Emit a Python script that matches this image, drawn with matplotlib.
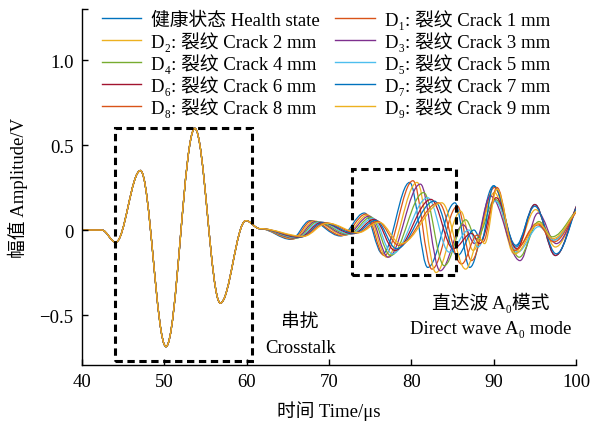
import matplotlib
matplotlib.use('Agg')
import matplotlib.pyplot as plt
from matplotlib.path import Path
from matplotlib.patches import PathPatch, Rectangle
from matplotlib.lines import Line2D

plt.rcParams['font.family'] = ['Liberation Serif', 'Noto Sans CJK SC', 'DejaVu Serif']
plt.rcParams['font.size'] = 13.5

# 串扰段: 所有曲线重合 (时间 us, 幅值 V, 取极值点)
t_common = [40.0, 42.4, 44.1, 47.1, 50.2, 53.7, 56.8, 59.9, 61.6]
a_common = [0.0, 0.0, -0.072, 0.35, -0.686, 0.598, -0.43, 0.055, 0.008]

# 之后每条曲线各自的极值点
t_health = [65.4, 67.7, 71.4, 74.3, 76.5, 79.8, 82.0, 85.3, 87.1, 90.0, 92.7, 95.0, 97.5, 101.0]
a_health = [-0.055, 0.055, -0.035, 0.100, -0.14, 0.28, -0.22, 0.16, -0.22, 0.26, -0.10, 0.15, -0.15, 0.20]
t_d1 = [65.6, 67.9, 71.6, 74.5, 76.7, 80.2, 82.5, 85.6, 87.3, 90.1, 92.6, 95.3, 97.2, 101.0]
a_d1 = [-0.053, 0.053, -0.033, 0.094, -0.15, 0.29, -0.23, 0.14, -0.18, 0.25, -0.12, 0.04, -0.06, 0.15]
t_d2 = [65.7, 68.2, 71.9, 74.7, 77.0, 80.7, 83.0, 86.0, 87.5, 90.1, 92.5, 95.1, 97.5, 101.0]
a_d2 = [-0.051, 0.052, -0.031, 0.088, -0.16, 0.28, -0.25, 0.11, -0.12, 0.22, -0.14, 0.12, -0.10, 0.17]
t_d3 = [65.9, 68.4, 72.1, 74.9, 77.2, 81.1, 83.5, 86.3, 87.7, 89.6, 93.2, 95.4, 97.6, 101.0]
a_d3 = [-0.049, 0.050, -0.028, 0.082, -0.16, 0.27, -0.24, 0.03, -0.08, 0.20, -0.18, 0.10, -0.08, 0.17]
t_d4 = [66.1, 68.6, 72.4, 75.1, 77.5, 81.5, 84.0, 86.6, 87.9, 90.2, 93.1, 95.5, 97.1, 101.0]
a_d4 = [-0.047, 0.048, -0.026, 0.076, -0.15, 0.22, -0.21, 0.06, -0.05, 0.18, -0.16, 0.05, -0.04, 0.14]
t_d5 = [66.2, 68.9, 72.6, 75.3, 77.7, 82.0, 84.6, 87.0, 88.1, 90.2, 92.9, 95.5, 97.3, 101.0]
a_d5 = [-0.045, 0.047, -0.024, 0.069, -0.14, 0.19, -0.13, 0.00, -0.10, 0.17, -0.13, 0.02, -0.06, 0.15]
t_d6 = [66.4, 69.1, 72.9, 75.5, 78.0, 82.4, 85.1, 87.3, 88.3, 90.3, 92.8, 95.0, 97.5, 101.0]
a_d6 = [-0.043, 0.045, -0.022, 0.063, -0.12, 0.18, -0.11, -0.02, -0.08, 0.19, -0.11, 0.15, -0.15, 0.20]
t_d7 = [66.6, 69.3, 73.1, 75.7, 78.2, 82.8, 85.6, 87.6, 88.5, 90.0, 92.7, 95.0, 97.6, 101.0]
a_d7 = [-0.041, 0.043, -0.019, 0.057, -0.11, 0.17, -0.15, 0.00, -0.06, 0.26, -0.09, 0.14, -0.14, 0.19]
t_d8 = [66.7, 69.6, 73.4, 75.9, 78.5, 83.3, 86.1, 88.0, 88.7, 90.4, 92.5, 95.4, 97.3, 101.0]
a_d8 = [-0.039, 0.042, -0.017, 0.051, -0.09, 0.16, -0.20, -0.03, -0.07, 0.25, -0.12, 0.03, -0.07, 0.14]
t_d9 = [66.9, 69.8, 73.6, 76.1, 78.7, 83.7, 86.6, 88.3, 88.9, 90.4, 92.6, 95.5, 97.2, 101.0]
a_d9 = [-0.037, 0.040, -0.015, 0.045, -0.08, 0.16, -0.23, -0.05, -0.08, 0.24, -0.14, 0.04, -0.05, 0.14]

sub = '₁₂₃₄₅₆₇₈₉'
labels = ['健康状态 Health state'] + ['D%s: 裂纹 Crack %d mm' % (sub[i - 1], i) for i in range(1, 10)]
colors = ['#0072BD', '#D95319', '#EDB120', '#7E2F8E', '#77AC30',
          '#4DBEEE', '#A2142F', '#0072BD', '#D95319', '#EDB120']
series = [(t_health, a_health), (t_d1, a_d1), (t_d2, a_d2), (t_d3, a_d3), (t_d4, a_d4),
          (t_d5, a_d5), (t_d6, a_d6), (t_d7, a_d7), (t_d8, a_d8), (t_d9, a_d9)]


def smooth_path(ts, vs):
    # 极值点之间用三次贝塞尔连接, 极值处切线水平
    verts = [(ts[0], vs[0])]
    codes = [Path.MOVETO]
    for i in range(1, len(ts)):
        dt = ts[i] - ts[i - 1]
        verts += [(ts[i - 1] + 0.364 * dt, vs[i - 1]), (ts[i] - 0.364 * dt, vs[i]), (ts[i], vs[i])]
        codes += [Path.CURVE4] * 3
    return Path(verts, codes)


fig = plt.figure(figsize=(5.93, 4.31), dpi=100)
ax = fig.add_axes([0.1383, 0.1508, 0.8330, 0.8260])

handles = []
for (ts, vs), c in zip(series, colors):
    p = smooth_path(t_common + ts, a_common + vs)
    ax.add_patch(PathPatch(p, fill=False, edgecolor=c, lw=0.9))
    handles.append(Line2D([], [], color=c, lw=1.0))

# 虚线框
ax.add_patch(Rectangle((44.0, -0.769), 16.7, 1.367, fill=False, ec='black',
                       lw=2.2, ls=(0, (2.4, 1.5))))
ax.add_patch(Rectangle((72.85, -0.265), 12.6, 0.625, fill=False, ec='black',
                       lw=2.2, ls=(0, (2.4, 1.5))))

ax.text(66.5, -0.535, '串扰', ha='center', va='center')
ax.text(66.5, -0.69, 'Crosstalk', ha='center', va='center')
ax.text(89.7, -0.42, '直达波 A₀模式', ha='center', va='center')
ax.text(89.7, -0.582, 'Direct wave A₀ mode', ha='center', va='center')

ax.set_xlim(40, 100)
ax.set_ylim(-0.794, 1.3)
ax.set_xticks([40, 50, 60, 70, 80, 90, 100])
ax.set_yticks([-0.5, 0, 0.5, 1.0])
ax.set_yticklabels(['\u22120.5', '0', '0.5', '1.0'])
ax.set_yticks([1.3], minor=True)
ax.tick_params(direction='in', length=4, width=1.0, pad=6)
ax.tick_params(which='minor', direction='in', length=4, width=1.0)
ax.spines['top'].set_visible(False)
ax.spines['right'].set_visible(False)
ax.spines['left'].set_linewidth(1.0)
ax.spines['bottom'].set_linewidth(1.0)

ax.set_xlabel('时间 Time/μs', labelpad=7)
ax.set_ylabel('幅值 Amplitude/V', labelpad=8)

# 图例按行排列: 左列 健康/D2/D4/D6/D8, 右列 D1/D3/D5/D7/D9
order = [0, 2, 4, 6, 8, 1, 3, 5, 7, 9]
ax.legend([handles[i] for i in order], [labels[i] for i in order], ncol=2,
          loc='upper left', bbox_to_anchor=(0.04, 1.0),
          frameon=False, handlelength=2.1, handletextpad=0.55, columnspacing=0.8,
          labelspacing=0.12, borderaxespad=0, borderpad=0)

fig.savefig('out.png', dpi=100)
